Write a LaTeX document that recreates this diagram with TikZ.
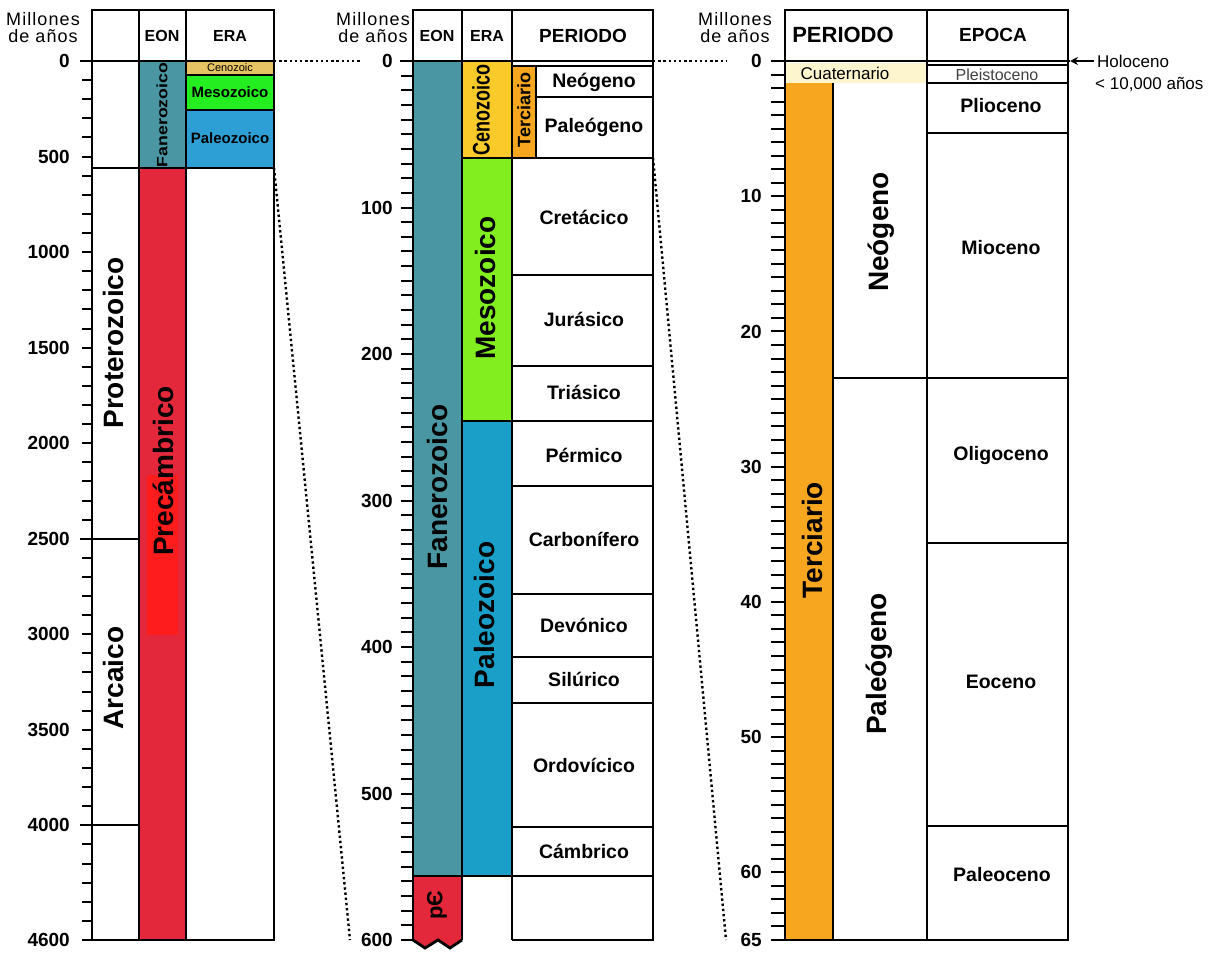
\documentclass[tikz,border=0pt]{standalone}
\usepackage{fontspec}
\setmainfont{Liberation Sans}
\newfontfamily\spacedfont[LetterSpace=6]{Liberation Sans}
\usepackage{xcolor}
\definecolor{fanero}{RGB}{74,150,162}
\definecolor{precam}{RGB}{226,40,58}
\definecolor{precamhi}{RGB}{255,28,28}
\definecolor{cenoL}{RGB}{230,196,100}
\definecolor{mesoL}{RGB}{36,238,32}
\definecolor{paleoL}{RGB}{46,159,212}
\definecolor{ceno}{RGB}{250,202,42}
\definecolor{meso}{RGB}{130,238,32}
\definecolor{paleo}{RGB}{26,160,200}
\definecolor{terci}{RGB}{247,166,32}
\definecolor{cuater}{RGB}{252,245,205}
\usepackage{tikz}
\usetikzlibrary{arrows.meta}

\begin{document}
\begin{tikzpicture}[
  x=1pt, y=-1pt,
  frame/.style={line width=2.8pt},
  tickln/.style={line width=2pt},
  dotln/.style={line width=2.4pt, dash pattern=on 2.4pt off 2.8pt},
  mytxt/.style={align=center, inner sep=0pt, font=\fontsize{18}{17}\spacedfont},
  hdrtxt/.style={inner sep=0pt, font=\fontsize{16}{16}\selectfont\bfseries},
  numtxt/.style={anchor=east, inner sep=0pt, font=\fontsize{19}{19}\selectfont\bfseries},
  pertxt/.style={inner sep=0pt, font=\fontsize{19.5}{19.5}\selectfont\bfseries},
  bigtxt/.style={rotate=90, inner sep=0pt, font=\fontsize{28}{28}\selectfont\bfseries}
]
\useasboundingbox (0,0) rectangle (1221,956);

% ---- panel 1: 0 - 4600
\fill[fanero] (139,61) rectangle (186,168);
\fill[cenoL] (186,61) rectangle (274,74.5);
\fill[mesoL] (186,74.5) rectangle (274,109.5);
\fill[paleoL] (186,109.5) rectangle (274,168);
\fill[precam] (139,168) rectangle (186,940);
\fill[precamhi] (147,475) rectangle (178,635);
\foreach \k in {0,...,46}
  \draw[tickln] (82,{61+\k*19.109}) -- (92,{61+\k*19.109});
\draw[frame] (92,10) rectangle (274,940);
\draw[frame] (139,10) -- (139,940) (186,10) -- (186,940);
\draw[frame] (80,61) -- (274,61) (92,168) -- (274,168);
\draw[tickln] (186,74.5) -- (274,74.5) (186,109.5) -- (274,109.5);
\draw[tickln] (80,539) -- (139,539) (80,825) -- (139,825);

\node[mytxt] (mill1) at (43,28) {Millones\\de años};
\node[hdrtxt] (eon1) at (162,36) {EON};
\node[hdrtxt] (era1) at (230,36) {ERA};
\foreach \v in {0,500,...,4000}
  \node[numtxt] (n1-\v) at (70,{61+\v*0.19109}) {\v};
\node[numtxt] (n1-4600) at (70,940) {4600};
\node[rotate=90, inner sep=0pt, font=\fontsize{15}{15}\selectfont\bfseries] (fan1) at (162,115) {\scalebox{1.18}[1]{Fanerozoico}};
\node[inner sep=0pt, font=\fontsize{11}{11}\selectfont] (cen1) at (230,68) {Cenozoic};
\node[inner sep=0pt, font=\fontsize{15}{15}\selectfont\bfseries] (mes1) at (230,92) {Mesozoico};
\node[inner sep=0pt, font=\fontsize{15}{15}\selectfont\bfseries] (pal1) at (230,138) {Paleozoico};
\node[bigtxt] (prot) at (113,343) {Proterozoico};
\node[bigtxt] (arca) at (113,678) {Arcaico};
\node[bigtxt] (prec) at (163,471) {Precámbrico};

% ---- panel 2: 0 - 600
\fill[fanero] (413,61) rectangle (462,876);
\fill[precam] (413,876) -- (462,876) -- (462,940) -- (450,948) -- (438,940)
  -- (425,948) -- (413,940) -- cycle;
\fill[ceno] (462,61) rectangle (512,158);
\fill[meso] (462,158) rectangle (512,421);
\fill[paleo] (462,421) rectangle (512,876);
\fill[terci] (512,66) rectangle (536,158);
\foreach \k in {0,...,60}
  \draw[tickln] (401,{61+\k*14.65}) -- (413,{61+\k*14.65});
\draw[frame] (413,940) -- (413,10) -- (653,10) -- (653,940) -- (512,940);
\draw[frame] (462,10) -- (462,940) (512,10) -- (512,940);
\draw[frame] (413,940) -- (425,948) -- (438,940) -- (450,948) -- (462,940);
\draw[frame] (400,61) -- (653,61);
\draw[frame] (462,158) -- (653,158) (462,421) -- (653,421) (413,876) -- (653,876);
\draw[frame] (512,66) -- (653,66) (536,66) -- (536,158) (536,97) -- (653,97);
\foreach \yy in {275,366,486,594,657,703,827}
  \draw[frame] (512,\yy) -- (653,\yy);

\node[mytxt] (mill2) at (373,28) {Millones\\de años};
\node[hdrtxt] (eon2) at (437,36) {EON};
\node[hdrtxt] (era2) at (487,36) {ERA};
\node[hdrtxt, font=\fontsize{19}{19}\selectfont\bfseries] (per2) at (583,36) {PERIODO};
\foreach \v in {0,100,...,600}
  \node[numtxt] (n2-\v) at (393,{61+\v*1.465}) {\v};
\node[bigtxt] (fan2) at (437,487) {Fanerozoico};
\node[bigtxt, font=\fontsize{24}{24}\selectfont\bfseries] (cen2) at (481,110) {\scalebox{0.75}[1]{Cenozoico}};
\node[bigtxt] (mes2) at (485,288) {Mesozoico};
\node[bigtxt] (pal2) at (484,615) {Paleozoico};
\node[bigtxt, font=\fontsize{18}{18}\selectfont\bfseries] (ter2) at (524,110) {Terciario};
\node[bigtxt, font=\fontsize{22}{22}\selectfont\bfseries] (pc2) at (437,905) {pЄ};
\node[pertxt] (neo2) at (594,82) {Neógeno};
\node[pertxt] (pgn2) at (594,127) {Paleógeno};
\node[pertxt] (cre) at (584,217) {Cretácico};
\node[pertxt] (jur) at (584,319) {Jurásico};
\node[pertxt] (tri) at (584,392) {Triásico};
\node[pertxt] (per) at (584,455) {Pérmico};
\node[pertxt] (car) at (584,539) {Carbonífero};
\node[pertxt] (dev) at (584,625) {Devónico};
\node[pertxt] (sil) at (584,679) {Silúrico};
\node[pertxt] (ord) at (584,765) {Ordovícico};
\node[pertxt] (cam) at (584,851) {Cámbrico};

% ---- panel 3: 0 - 65
\fill[cuater] (785,63) rectangle (927,83);
\fill[terci] (785,83) rectangle (833,940);
\foreach \k in {0,...,65}
  \draw[tickln] (771,{61+\k*13.523}) -- (785,{61+\k*13.523});
\draw[frame] (785,10) rectangle (1068,940);
\draw[frame] (927,10) -- (927,940) (833,83) -- (833,940);
\draw[frame] (771,61) -- (1070,61) (771,940) -- (785,940);
\draw[tickln] (927,65) -- (1068,65);
\draw[frame] (927,83) -- (1068,83) (927,133) -- (1068,133) (833,378) -- (1068,378)
  (927,543) -- (1068,543) (927,826) -- (1068,826);

\node[mytxt] (mill3) at (735,28) {Millones\\de años};
\node[hdrtxt, font=\fontsize{22}{22}\selectfont\bfseries] (per3) at (843,35) {PERIODO};
\node[hdrtxt, font=\fontsize{19}{19}\selectfont\bfseries] (epo3) at (993,35) {EPOCA};
\foreach \v in {0,10,...,60}
  \node[numtxt] (n3-\v) at (762,{61+\v*13.523}) {\v};
\node[numtxt] (n3-65) at (762,940) {65};
\node[inner sep=0pt, font=\fontsize{17}{17}\selectfont] (cua) at (845,73) {Cuaternario};
\node[inner sep=0pt, font=\fontsize{16}{16}\selectfont, text=black!75] (ple) at (997,75) {Pleistoceno};
\node[bigtxt] (ter3) at (812,540) {Terciario};
\node[bigtxt] (neo3) at (881,232) {Neógeno};
\node[bigtxt] (pgn3) at (879,664) {Paleógeno};
\node[pertxt] (pli) at (1001,106) {Plioceno};
\node[pertxt] (mio) at (1001,248) {Mioceno};
\node[pertxt] (oli) at (1001,455) {Oligoceno};
\node[pertxt] (eoc) at (1001,682) {Eoceno};
\node[pertxt] (pal) at (1002,875) {Paleoceno};

\node[anchor=west, inner sep=0pt, font=\fontsize{17}{17}\selectfont] (holo) at (1097,61) {Holoceno};
\node[anchor=west, inner sep=0pt, font=\fontsize{17}{17}\selectfont] (holoage) at (1095,84) {< 10,000 años};
\coordinate (holotip) at (1070,61);
\draw[line width=1.6pt, -{Stealth[length=8pt,width=8pt]}, shorten <=3pt] (holo.west) -- (holotip);

% ---- dotted links
\coordinate (a0) at (274,61);
\coordinate (a1) at (362,61);
\coordinate (b0) at (274,168);
\coordinate (b1) at (350,940);
\coordinate (c0) at (653,61);
\coordinate (c1) at (727,61);
\coordinate (d0) at (653,158);
\coordinate (d1) at (726,940);
\draw[dotln] (a0) -- (a1);
\draw[dotln] (b0) -- (b1);
\draw[dotln] (c0) -- (c1);
\draw[dotln] (d0) -- (d1);
\end{tikzpicture}
\end{document}
